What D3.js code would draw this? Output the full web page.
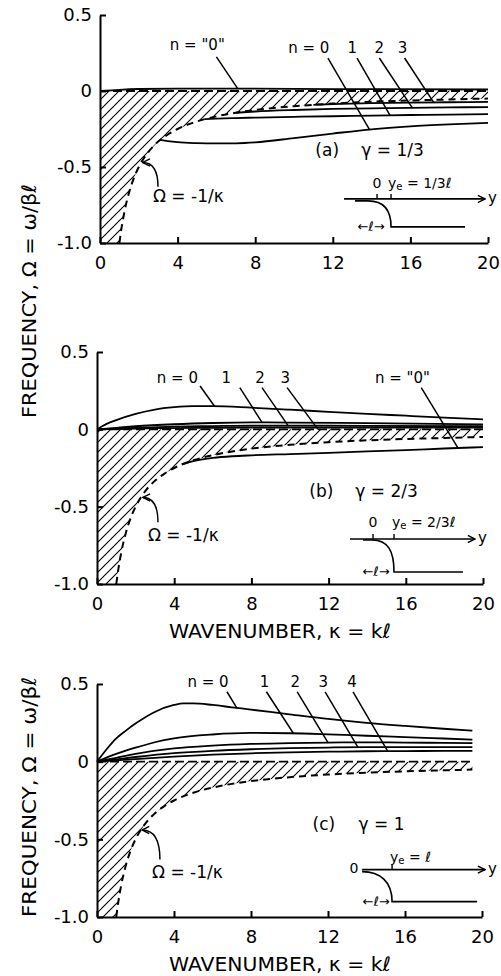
<!DOCTYPE html>
<html><head><meta charset="utf-8">
<script src="https://cdn.jsdelivr.net/npm/d3@7"></script>
<style>body{margin:0;background:#fff} svg{display:block}</style>
</head><body><svg id="c" width="501" height="976"></svg>
<script>
// ---------- data ----------
const kappaTicks = [0, 4, 8, 12, 16, 20];
const omegaTicks = [0.5, 0, -0.5, -1.0];
const omegaTickLabels = ["0.5", "0", "-0.5", "-1.0"];
// continuum boundary  Omega = -1/kappa
const contK = [1, 1.1, 1.25, 1.5, 1.75, 2, 2.5, 3, 3.5, 4, 5, 6, 7, 8, 10, 12, 14, 16, 18, 19.5, 20];
const contW = [-1, -0.909, -0.8, -0.667, -0.571, -0.5, -0.4, -0.333, -0.286, -0.25, -0.2, -0.167, -0.143, -0.125, -0.1, -0.083, -0.071, -0.0625, -0.056, -0.051, -0.05];

// panel (a) gamma = 1/3
const aK_q0 = [0, 1, 2, 4, 6, 10, 14, 20];
const aW_q0 = [0, 0.008, 0.013, 0.016, 0.016, 0.014, 0.012, 0.01];
const aK_n0 = [3.1, 3.5, 4, 5, 6, 7, 8, 10, 12, 14, 16, 18, 20];
const aW_n0 = [-0.322, -0.33, -0.337, -0.343, -0.345, -0.344, -0.338, -0.31, -0.28, -0.252, -0.233, -0.22, -0.21];
const aK_n1 = [5.4, 6, 7, 8, 10, 12, 14, 16, 18, 20];
const aW_n1 = [-0.185, -0.182, -0.178, -0.175, -0.17, -0.166, -0.162, -0.158, -0.155, -0.152];
const aK_n2 = [7, 8, 10, 12, 14, 16, 18, 20];
const aW_n2 = [-0.143, -0.135, -0.125, -0.118, -0.114, -0.111, -0.108, -0.106];
const aK_n3 = [11, 12, 14, 16, 18, 20];
const aW_n3 = [-0.091, -0.087, -0.08, -0.076, -0.074, -0.072];

// panel (b) gamma = 2/3
const bK_n0 = [0, 0.5, 1, 2, 3, 4, 5, 6, 8, 10, 12, 14, 16, 18, 20];
const bW_n0 = [0, 0.035, 0.06, 0.1, 0.128, 0.143, 0.15, 0.15, 0.14, 0.127, 0.113, 0.1, 0.088, 0.076, 0.065];
const bK_n = [0, 1, 2, 4, 6, 8, 10, 14, 20];
const bW_n1 = [0, 0.01, 0.02, 0.033, 0.041, 0.045, 0.044, 0.04, 0.032];
const bW_n2 = [0, 0.005, 0.01, 0.017, 0.021, 0.024, 0.024, 0.023, 0.02];
const bW_n3 = [0, 0.002, 0.005, 0.008, 0.01, 0.012, 0.012, 0.012, 0.011];
const bK_q0 = [4.4, 5, 6, 7, 8, 10, 12, 14, 16, 18, 20];
const bW_q0 = [-0.227, -0.205, -0.185, -0.174, -0.168, -0.16, -0.152, -0.143, -0.134, -0.124, -0.115];

// panel (c) gamma = 1
const cK_n0 = [0, 0.5, 1, 1.5, 2, 3, 4, 4.5, 5, 6, 7, 8, 10, 12, 14, 16, 18, 19.5];
const cW_n0 = [0, 0.08, 0.15, 0.2, 0.245, 0.32, 0.365, 0.375, 0.375, 0.365, 0.35, 0.335, 0.305, 0.275, 0.25, 0.23, 0.212, 0.2];
const cK_n1 = [0, 1, 2, 3, 4, 6, 8, 10, 12, 14, 16, 18, 19.5];
const cW_n1 = [0, 0.05, 0.09, 0.125, 0.15, 0.175, 0.185, 0.183, 0.176, 0.167, 0.158, 0.149, 0.142];
const cK_n = [0, 1, 2, 4, 6, 8, 10, 12, 14, 16, 18, 19.5];
const cW_n2 = [0, 0.025, 0.05, 0.085, 0.103, 0.114, 0.12, 0.123, 0.124, 0.123, 0.121, 0.119];
const cW_n3 = [0, 0.015, 0.03, 0.055, 0.07, 0.08, 0.087, 0.091, 0.093, 0.094, 0.094, 0.093];
const cW_n4 = [0, 0.008, 0.017, 0.033, 0.045, 0.054, 0.06, 0.064, 0.067, 0.068, 0.069, 0.069];

// ---------- layout ----------
const FONT = "'DejaVu Sans', sans-serif";
const layouts = [
  { x0: 100, x1: 488, yT: 15, yB: 243 },
  { x0: 97, x1: 483, yT: 352, yB: 584 },
  { x0: 97, x1: 482, yT: 684, yB: 917 }
];

const panels = [
  {
    kEnd: 20,
    curves: [[aK_q0, aW_q0], [aK_n0, aW_n0], [aK_n1, aW_n1], [aK_n2, aW_n2], [aK_n3, aW_n3]],
    labels: [
      { t: "n = \"0\"", k: 3.6, w: 0.27 },
      { t: "n = 0", k: 9.7, w: 0.25 },
      { t: "1", k: 13.0, w: 0.25, a: "middle" },
      { t: "2", k: 14.4, w: 0.25, a: "middle" },
      { t: "3", k: 15.6, w: 0.25, a: "middle" }
    ],
    leaders: [
      [[6.0, 0.224], [7.1, 0.016]],
      [[11.75, 0.217], [13.9, -0.255]],
      [[13.25, 0.217], [14.95, -0.16]],
      [[14.4, 0.217], [16.1, -0.111]],
      [[15.7, 0.217], [17.2, -0.075]]
    ],
    tag: { k: 11.1, w: -0.43, t1: "(a)", t2: "γ = 1/3" },
    omegaLbl: { k: 2.73, w: -0.73, from: [2.99, -0.63], to: [2.2, -0.47] },
    inset: { k: 12.58, w: -0.71, len: 141, ticks: [33, 47], zero: [33, -11], ye: [44, -11], yeText: " = 1/3ℓ",
             prof: "M11,2 L24,2 C40,2 47,12 47,28 L121,28", ell: [27, 32] }
  },
  {
    kEnd: 20,
    curves: [[bK_n0, bW_n0], [bK_n, bW_n1], [bK_n, bW_n2], [bK_n, bW_n3], [bK_q0, bW_q0]],
    labels: [
      { t: "n = 0", k: 3.1, w: 0.30 },
      { t: "1", k: 6.7, w: 0.30, a: "middle" },
      { t: "2", k: 8.45, w: 0.30, a: "middle" },
      { t: "3", k: 9.75, w: 0.30, a: "middle" },
      { t: "n = \"0\"", k: 14.4, w: 0.30 }
    ],
    leaders: [
      [[5.34, 0.28], [6.1, 0.148]],
      [[7.4, 0.27], [8.55, 0.045]],
      [[8.55, 0.27], [9.9, 0.024]],
      [[9.85, 0.27], [11.45, 0.0]],
      [[16.8, 0.27], [18.7, -0.12]]
    ],
    tag: { k: 11.0, w: -0.44, t1: "(b)", t2: "γ = 2/3" },
    omegaLbl: { k: 2.64, w: -0.72, from: [3.16, -0.60], to: [2.38, -0.44] },
    inset: { k: 13.11, w: -0.709, len: 125, ticks: [23, 44], zero: [23, -12], ye: [42, -12], yeText: " = 2/3ℓ",
             prof: "M13,1 L22,1 C38,1 44,12 44,33 L113,33", ell: [26, 37] },
    xlabel: true
  },
  {
    kEnd: 19.5,
    curves: [[cK_n0, cW_n0], [cK_n1, cW_n1], [cK_n, cW_n2], [cK_n, cW_n3], [cK_n, cW_n4]],
    labels: [
      { t: "n = 0", k: 4.7, w: 0.48 },
      { t: "1", k: 8.7, w: 0.48, a: "middle" },
      { t: "2", k: 10.3, w: 0.48, a: "middle" },
      { t: "3", k: 11.75, w: 0.48, a: "middle" },
      { t: "4", k: 13.25, w: 0.48, a: "middle" }
    ],
    leaders: [
      [[6.75, 0.45], [7.27, 0.345]],
      [[8.8, 0.45], [10.2, 0.183]],
      [[10.4, 0.45], [12.0, 0.123]],
      [[11.85, 0.45], [13.55, 0.093]],
      [[13.3, 0.45], [15.1, 0.068]]
    ],
    tag: { k: 11.2, w: -0.437, t1: "(c)", t2: "γ = 1" },
    omegaLbl: { k: 2.86, w: -0.75, from: [3.27, -0.63], to: [2.34, -0.44] },
    inset: { k: 13.77, w: -0.695, len: 123, ticks: [30], zero: [-8, 3], ye: [28, -8], yeText: " = ℓ",
             prof: "M0,2 C18,2 30,12 30,32 L115,32", ell: [14, 36] },
    xlabel: true
  }
];

// ---------- drawing ----------
const svg = d3.select("#c");
const defs = svg.append("defs");
defs.append("pattern").attr("id", "hatch").attr("patternUnits", "userSpaceOnUse")
  .attr("width", 10).attr("height", 10)
  .append("path").attr("d", "M0,10 L10,0 M-2,2 L2,-2 M8,12 L12,8")
  .attr("stroke", "#000").attr("stroke-width", 1.1);
defs.append("marker").attr("id", "open").attr("viewBox", "0 0 10 10")
  .attr("refX", 9).attr("refY", 5).attr("markerWidth", 9).attr("markerHeight", 9)
  .attr("markerUnits", "userSpaceOnUse").attr("orient", "auto")
  .append("path").attr("d", "M1,1 L9,5 L1,9").attr("fill", "none")
  .attr("stroke", "#000").attr("stroke-width", 1.6);

panels.forEach((P, i) => {
  const L = layouts[i];
  const x = d3.scaleLinear().domain([0, 20]).range([L.x0, L.x1]);
  const y = d3.scaleLinear().domain([-1, 0.5]).range([L.yB, L.yT]);
  const g = svg.append("g");
  const lin = d3.line().x(d => x(d[0])).y(d => y(d[1]));
  const smooth = d3.line().x(d => x(d[0])).y(d => y(d[1])).curve(d3.curveMonotoneX);

  // hatched continuum
  const bnd = d3.zip(contK, contW).filter(d => d[0] <= P.kEnd);
  const poly = [[0, 0], [P.kEnd, 0]].concat(bnd.slice().reverse()).concat([[0, -1]]);
  g.append("path").attr("d", lin(poly) + "Z").attr("fill", "url(#hatch)");
  g.append("path").attr("d", smooth(bnd)).attr("fill", "none").attr("stroke", "#000")
    .attr("stroke-width", 2).attr("stroke-dasharray", "7,5");
  g.append("path").attr("d", lin([[0, 0], [P.kEnd, 0]])).attr("fill", "none").attr("stroke", "#000")
    .attr("stroke-width", 1.8).attr("stroke-dasharray", "9,4");

  // dispersion curves
  P.curves.forEach(c => {
    g.append("path").attr("d", smooth(d3.zip(c[0], c[1]))).attr("fill", "none")
      .attr("stroke", "#000").attr("stroke-width", 1.8);
  });

  // axes
  const ax = g.append("g").attr("transform", `translate(0,${y(-1)})`)
    .call(d3.axisBottom(x).tickValues(kappaTicks).tickSize(-6).tickSizeOuter(0).tickPadding(13));
  const ay = g.append("g").attr("transform", `translate(${x(0)},0)`)
    .call(d3.axisLeft(y).tickValues(omegaTicks).tickFormat((d, j) => omegaTickLabels[j])
      .tickSize(-6).tickSizeOuter(0).tickPadding(8));
  [ax, ay].forEach(a => {
    a.selectAll("path,line").attr("stroke", "#000").attr("stroke-width", 2);
    a.selectAll("text").attr("font-family", FONT).attr("font-size", 18).attr("fill", "#000");
  });

  // labels and leaders
  P.labels.forEach(l => {
    g.append("text").attr("x", x(l.k)).attr("y", y(l.w)).attr("text-anchor", l.a || "start")
      .attr("font-family", FONT).attr("font-size", 15).text(l.t);
  });
  P.leaders.forEach(s => {
    g.append("path").attr("d", lin(s)).attr("stroke", "#000").attr("stroke-width", 1.5);
  });
  g.append("text").attr("x", x(P.tag.k)).attr("y", y(P.tag.w)).attr("font-family", FONT)
    .attr("font-size", 17).text(P.tag.t1);
  g.append("text").attr("x", x(P.tag.k) + 46).attr("y", y(P.tag.w)).attr("font-family", FONT)
    .attr("font-size", 17).text(P.tag.t2);

  // Omega = -1/kappa label with curved arrow
  const O = P.omegaLbl;
  g.append("text").attr("x", x(O.k)).attr("y", y(O.w)).attr("font-family", FONT)
    .attr("font-size", 17).text("Ω = -1/κ");
  const sx = x(O.from[0]), sy = y(O.from[1]), ex = x(O.to[0]), ey = y(O.to[1]);
  g.append("path").attr("d", `M${sx},${sy} Q${sx},${ey} ${ex},${ey}`).attr("fill", "none")
    .attr("stroke", "#000").attr("stroke-width", 1.5).attr("marker-end", "url(#open)");

  // inset sketch
  const I = P.inset;
  const ig = g.append("g").attr("transform", `translate(${x(I.k)},${y(I.w)})`);
  ig.append("line").attr("x1", 0).attr("x2", I.len).attr("y1", 0).attr("y2", 0)
    .attr("stroke", "#000").attr("stroke-width", 1.6).attr("marker-end", "url(#open)");
  I.ticks.forEach(t => ig.append("line").attr("x1", t).attr("x2", t).attr("y1", 0).attr("y2", -5)
    .attr("stroke", "#000").attr("stroke-width", 1.4));
  ig.append("text").attr("x", I.len + 3).attr("y", 4).attr("font-family", FONT).attr("font-size", 15).text("y");
  ig.append("text").attr("x", I.zero[0]).attr("y", I.zero[1]).attr("text-anchor", "middle")
    .attr("font-family", FONT).attr("font-size", 14).text("0");
  const ye = ig.append("text").attr("x", I.ye[0]).attr("y", I.ye[1]).attr("font-family", FONT).attr("font-size", 14);
  ye.append("tspan").text("y");
  ye.append("tspan").attr("font-size", 10).attr("dy", 2).text("e");
  ye.append("tspan").attr("dy", -2).text(I.yeText);
  ig.append("path").attr("d", I.prof).attr("fill", "none").attr("stroke", "#000").attr("stroke-width", 1.6);
  ig.append("text").attr("x", I.ell[0]).attr("y", I.ell[1]).attr("text-anchor", "middle")
    .attr("font-family", FONT).attr("font-size", 13).text("←ℓ→");

  if (P.xlabel) {
    g.append("text").attr("x", 280).attr("y", y(-1) + 54).attr("text-anchor", "middle")
      .attr("font-family", FONT).attr("font-size", 20).attr("textLength", 222)
      .attr("lengthAdjust", "spacingAndGlyphs").text("WAVENUMBER,  κ = kℓ");
  }
});

// shared y-axis titles
[[301, 234], [797, 240]].forEach(([cy, len]) => {
  svg.append("text").attr("transform", `translate(36,${cy}) rotate(-90)`).attr("text-anchor", "middle")
    .attr("font-family", FONT).attr("font-size", 20).attr("textLength", len)
    .attr("lengthAdjust", "spacingAndGlyphs").text("FREQUENCY,  Ω = ω/βℓ");
});
</script>
</body></html>
